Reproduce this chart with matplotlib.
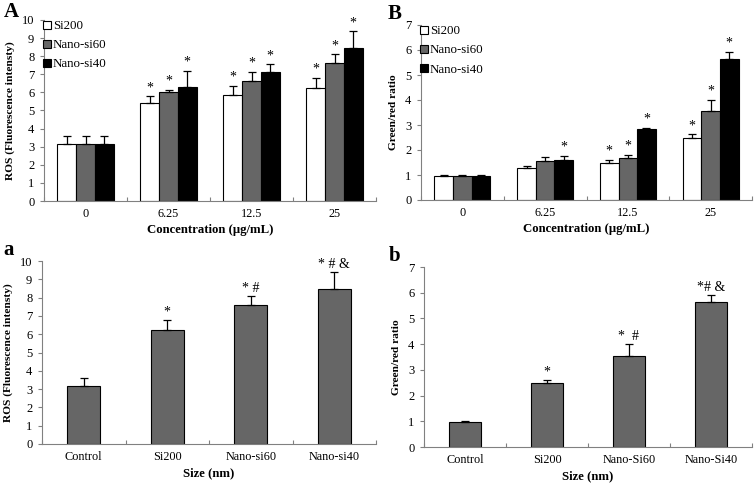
import numpy as np
import matplotlib.pyplot as plt
from matplotlib.lines import Line2D

plt.rcParams['font.family'] = ['Liberation Serif', 'DejaVu Serif']

conc = ["0", "6.25", "12.5", "25"]
series = ["Si200", "Nano-si60", "Nano-si40"]

ros_mean = [[3.15, 5.4, 5.85, 6.22],
            [3.15, 6.0, 6.62, 7.62],
            [3.15, 6.3, 7.1, 8.48]]
ros_err = [[0.45, 0.38, 0.53, 0.58],
           [0.45, 0.15, 0.53, 0.48],
           [0.45, 0.9, 0.45, 0.9]]
ros_star = [[False, True, True, True],
            [False, True, True, True],
            [False, True, True, True]]

gr_mean = [[0.97, 1.28, 1.47, 2.48],
           [0.97, 1.57, 1.68, 3.55],
           [0.97, 1.6, 2.83, 5.62]]
gr_err = [[0.05, 0.07, 0.15, 0.15],
          [0.05, 0.15, 0.12, 0.45],
          [0.05, 0.18, 0.05, 0.3]]
gr_star = [[False, False, True, True],
           [False, False, True, True],
           [False, True, True, True]]

size_a = ["Control", "Si200", "Nano-si60", "Nano-si40"]
ros_size = [3.15, 6.22, 7.62, 8.48]
ros_size_err = [0.47, 0.58, 0.48, 0.92]
ros_size_lab = ["", "*", "* #", "* # &"]

size_b = ["Control", "Si200", "Nano-Si60", "Nano-Si40"]
gr_size = [0.97, 2.48, 3.55, 5.62]
gr_size_err = [0.04, 0.14, 0.45, 0.3]
gr_size_lab = ["", "*", "*  #", "*# &"]

colors = ["white", "#666666", "black"]
W, H = 756, 483


def px_axes(fig, x0, y0, x1, y1):
    return fig.add_axes([x0 / W, 1 - y1 / H, (x1 - x0) / W, (y1 - y0) / H])


def style(ax, ymax, xlabels, ylabel, xlabel):
    for s in ["top", "right"]:
        ax.spines[s].set_visible(False)
    for s in ["left", "bottom"]:
        ax.spines[s].set_color("#808080")
        ax.spines[s].set_linewidth(0.8)
    ax.set_xlim(-0.5, 3.5)
    ax.set_ylim(0, ymax)
    ax.set_yticks(range(ymax + 1))
    ax.tick_params(axis="y", direction="out", length=3, color="#808080", labelsize=9, pad=4)
    ax.set_xticks(np.arange(-0.5, 4, 1))
    ax.set_xticklabels([])
    ax.set_xticks(range(4), minor=True)
    ax.set_xticklabels(xlabels, minor=True, fontsize=8.8)
    ax.tick_params(axis="x", which="major", direction="in", length=3, color="#808080")
    ax.tick_params(axis="x", which="minor", length=0, pad=5)
    ax.set_ylabel(ylabel, fontweight="bold", fontsize=8.2, labelpad=5)
    ax.set_xlabel(xlabel, fontweight="bold", fontsize=9.2, labelpad=3)


def grouped(ax, means, errs, stars, ymax):
    x = np.arange(4)
    bw = 0.225
    for i in range(3):
        xi = x + (i - 1) * bw
        ax.bar(xi, means[i], bw, color=colors[i], edgecolor="black", linewidth=0.8,
               yerr=[np.zeros(4), errs[i]], error_kw=dict(ecolor="black", elinewidth=0.9, capsize=3, capthick=0.9))
        for j in range(4):
            if stars[i][j]:
                ax.text(xi[j], means[i][j] + errs[i][j] + ymax * 0.012, "*",
                        ha="center", va="bottom", fontsize=10)
    handles = [Line2D([], [], marker="s", ls="", markersize=5.5, markerfacecolor=c,
                      markeredgecolor="black", markeredgewidth=0.8) for c in colors]
    ax.legend(handles, series, loc="upper left", bbox_to_anchor=(-0.03, 1.05), frameon=False,
              fontsize=9.3, handlelength=0.6, handletextpad=0.15, labelspacing=0.55, borderaxespad=0.3)


def single(ax, means, errs, labs, ymax):
    x = np.arange(4)
    ax.bar(x, means, 0.4, color="#666666", edgecolor="black", linewidth=0.8,
           yerr=[np.zeros(4), errs], error_kw=dict(ecolor="black", elinewidth=0.9, capsize=3, capthick=0.9))
    for j in range(4):
        if labs[j]:
            ax.text(x[j], means[j] + errs[j] + ymax * 0.005, labs[j],
                    ha="center", va="bottom", fontsize=10)


fig = plt.figure(figsize=(W / 100, H / 100), dpi=100)

axA = px_axes(fig, 44, 20, 376, 201)
grouped(axA, ros_mean, ros_err, ros_star, 10)
style(axA, 10, conc, "ROS (Fluorescence intensty)", "Concentration (\u03bcg/mL)")

axB = px_axes(fig, 421, 25, 752, 200)
grouped(axB, gr_mean, gr_err, gr_star, 7)
style(axB, 7, conc, "Green/red ratio", "Concentration (\u03bcg/mL)")

axa = px_axes(fig, 42, 261, 376, 444)
single(axa, ros_size, ros_size_err, ros_size_lab, 10)
style(axa, 10, size_a, "ROS (Fluorescence intensty)", "Size (nm)")

axb = px_axes(fig, 424, 267, 752, 447)
single(axb, gr_size, gr_size_err, gr_size_lab, 7)
style(axb, 7, size_b, "Green/red ratio", "Size (nm)")

for lab, x, y in [("A", 4, 2), ("B", 388, 4), ("a", 3, 240), ("b", 389, 246)]:
    fig.text(x / W, 1 - y / H, lab, fontsize=15, fontweight="bold", va="top", ha="left")

fig.savefig("out.png", dpi=100)
